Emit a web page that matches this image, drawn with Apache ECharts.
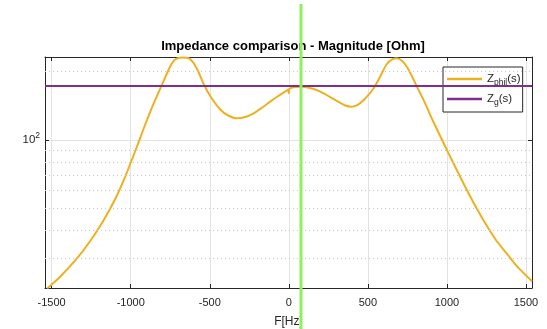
<!DOCTYPE html>
<html>
<head>
<meta charset="utf-8">
<script src="https://cdn.jsdelivr.net/npm/echarts@6/dist/echarts.min.js"></script>
<style>
  html, body { margin: 0; padding: 0; background: #fff; }
  #chart { width: 547px; height: 329px; }
</style>
</head>
<body>
<div id="chart"></div>
<script>
// frequency [Hz] and |Z_phil| [Ohm]
const freq = [-1528, -1446, -1340, -1256, -1174, -1098, -1041, -1003, -959, -919, -856, -803, -750, -719, -676,
  -636, -603, -573, -540, -497, -434, -383, -328, -276, -223, -168, -118, -67, -12, -4, 0, 4, 72, 135, 199,
  293, 357, 395, 433, 477, 536, 578, 620, 654, 684, 717, 747, 781, 810, 852, 915, 1000, 1059, 1126, 1185,
  1253, 1312, 1380, 1451, 1538];
const zPhil = [22.2, 25.0, 30.1, 35.9, 44.0, 55.0, 67.3, 78.4, 94.1, 111.8, 144.1, 174.7, 210.8, 226.2, 231,
  229.7, 218.4, 200.3, 177.4, 156.2, 136.3, 128.2, 124.6, 126.2, 131.1, 139.1, 147.5, 156.2, 165.5, 167, 160.6, 168, 171.7, 169.5, 163.3,
  150.1, 141.9, 140.2, 142.6, 150.8, 168.6, 190.4, 216.2, 226.2, 229.0, 222.8, 209.7, 189.5, 171.7, 150.1, 120.0, 90.3, 74.5, 60.2, 50.4,
  41.8, 36.1, 31.5, 27.4, 23.9];

// |Z_g| is flat over the whole band
const zgFreq = [-1542, 1538];
const zgMag = [173, 173];

// dotted minor grid of the log axis
const minorGrid = [30, 40, 50, 60, 70, 80, 90, 200];

// green marker line position [Hz]
const cursorFreq = 78;

const axisColor = '#262626';
const font = 'Liberation Sans, Arial, sans-serif';

const chart = echarts.init(document.getElementById('chart'), null, { renderer: 'canvas' });

const xCommon = {
  type: 'value',
  min: -1542,
  max: 1538,
  splitNumber: 5
};
const yCommon = {
  type: 'log',
  logBase: 10,
  min: 22.3,
  max: 232
};

const option = {
  animation: false,
  title: {
    text: 'Impedance comparison - Magnitude [Ohm]',
    left: 288,
    textAlign: 'center',
    top: 35,
    textStyle: { fontFamily: font, fontSize: 13, fontWeight: 'bold', color: '#000' }
  },
  grid: { left: 45, top: 57, right: 15, bottom: 41, outerBoundsMode: 'none' },
  legend: {
    left: 443,
    top: 67,
    orient: 'vertical',
    backgroundColor: '#fff',
    borderColor: axisColor,
    borderWidth: 1,
    padding: [6, 2, 5, 4],
    itemWidth: 35,
    itemHeight: 2.5,
    itemGap: 6,
    icon: 'rect',
    data: ['phil', 'g'],
    formatter: function (name) { return 'Z{sub|' + name + '}(s)'; },
    textStyle: {
      fontFamily: font, fontSize: 11.5, color: axisColor,
      rich: { sub: { fontFamily: font, fontSize: 8.5, color: axisColor, padding: [7, 0, 0, 0] } }
    }
  },
  xAxis: [
    Object.assign({}, xCommon, {
      position: 'bottom',
      name: 'F[Hz]',
      nameLocation: 'middle',
      nameGap: 28,
      nameTextStyle: { fontFamily: font, fontSize: 12, color: axisColor },
      axisLine: { onZero: false, lineStyle: { color: axisColor, width: 1 } },
      axisTick: { inside: true, length: 4, lineStyle: { color: axisColor } },
      axisLabel: {
        fontFamily: font, fontSize: 11, color: axisColor, margin: 9,
        showMinLabel: false, showMaxLabel: false,
        formatter: function (v) { return String(v); }
      },
      splitLine: { show: true, lineStyle: { color: '#e3e3e3', width: 1 } }
    }),
    Object.assign({}, xCommon, {
      position: 'top',
      axisLine: { onZero: false, lineStyle: { color: axisColor, width: 1 } },
      axisTick: { inside: true, length: 4, lineStyle: { color: axisColor } },
      axisLabel: { show: false },
      splitLine: { show: false }
    })
  ],
  yAxis: [
    Object.assign({}, yCommon, {
      position: 'left',
      axisLine: { show: true, onZero: false, lineStyle: { color: axisColor, width: 1 } },
      axisTick: { show: true, inside: true, length: 4, lineStyle: { color: axisColor } },
      axisLabel: {
        fontFamily: font, fontSize: 11.5, color: axisColor, margin: 5,
        showMinLabel: false, showMaxLabel: false,
        formatter: function (v) { return Math.abs(v - 100) < 1e-6 ? '10{sup|2}' : ''; },
        rich: { sup: { fontFamily: font, fontSize: 8.5, color: axisColor, padding: [0, 0, 8, 0] } }
      },
      splitLine: { show: true, lineStyle: { color: '#e3e3e3', width: 1 } }
    }),
    Object.assign({}, yCommon, {
      position: 'right',
      axisLine: { show: true, onZero: false, lineStyle: { color: axisColor, width: 1 } },
      axisTick: { show: true, inside: true, length: 4, lineStyle: { color: axisColor } },
      axisLabel: { show: false },
      splitLine: { show: false }
    })
  ],
  series: [
    {
      name: 'phil',
      type: 'line',
      data: freq.map((f, i) => [f, zPhil[i]]),
      smooth: 0.3,
      symbol: 'none',
      lineStyle: { color: '#EDB120', width: 2 },
      itemStyle: { color: '#EDB120' },
      z: 3,
      markLine: {
        silent: true,
        symbol: 'none',
        label: { show: false },
        lineStyle: { color: '#c8c8c8', type: [1, 3], width: 1 },
        data: minorGrid.map(v => ({ yAxis: v }))
      }
    },
    {
      name: 'g',
      type: 'line',
      data: zgFreq.map((f, i) => [f, zgMag[i]]),
      symbol: 'none',
      lineStyle: { color: '#7E2F8E', width: 2 },
      itemStyle: { color: '#7E2F8E' },
      z: 4
    }
  ]
};

chart.setOption(option);

// vertical green cursor, placed through the x scale
const cx = Math.round(chart.convertToPixel({ xAxisIndex: 0 }, cursorFreq));
chart.setOption({
  graphic: [{
    type: 'line',
    z: 100,
    shape: { x1: cx, y1: 4, x2: cx, y2: 329 },
    style: { stroke: '#8ef05a', lineWidth: 3 }
  }]
});
</script>
</body>
</html>
